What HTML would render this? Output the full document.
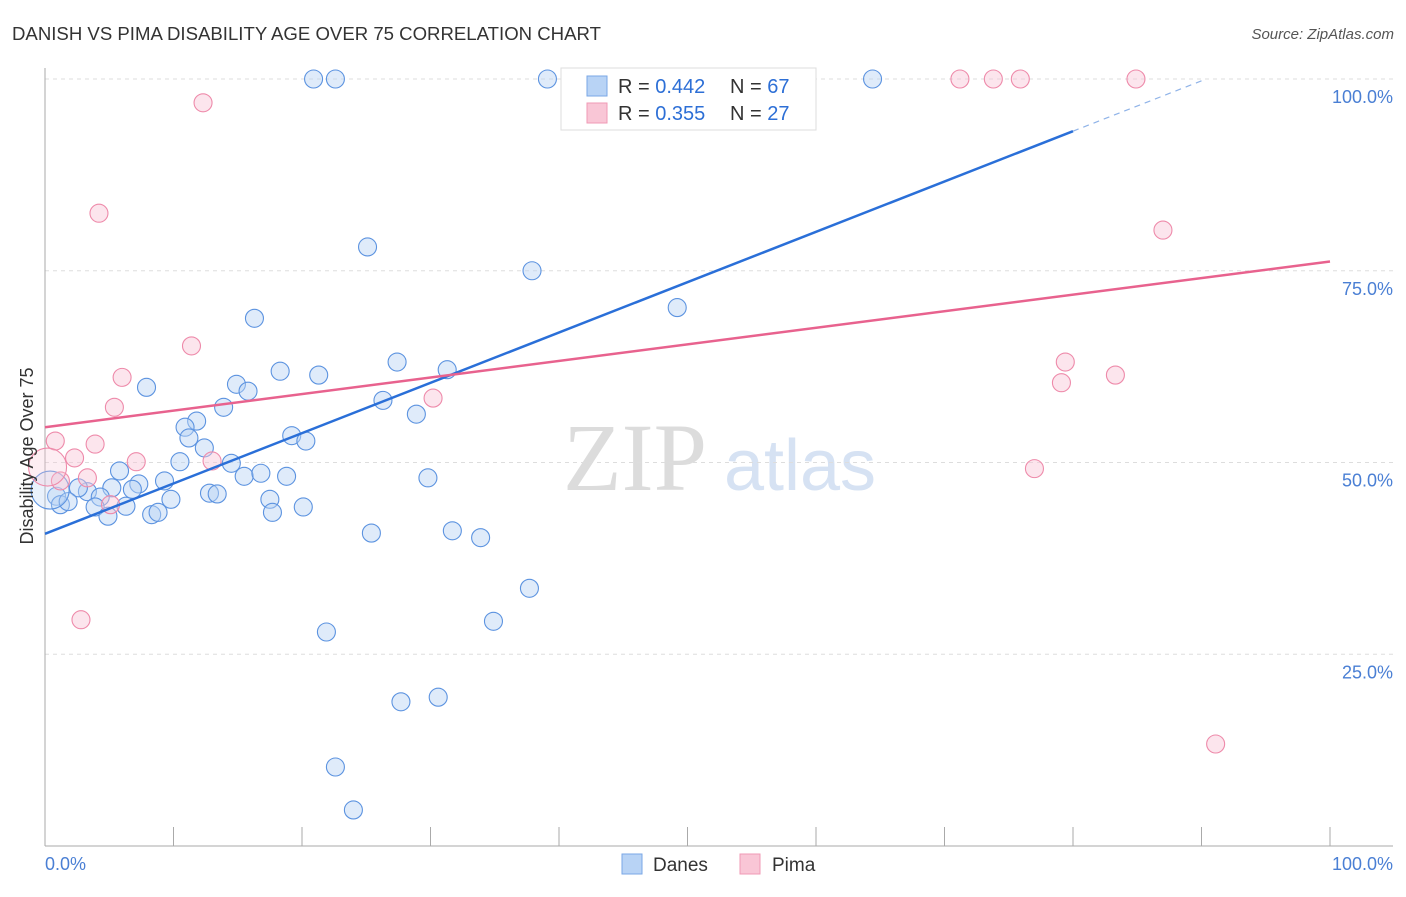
<!DOCTYPE html>
<html><head><meta charset="utf-8"><style>
body{margin:0;background:#fff;font-family:"Liberation Sans",sans-serif;}
</style></head><body>
<svg width="1406" height="892" xmlns="http://www.w3.org/2000/svg" id="svg" font-family="Liberation Sans, sans-serif">
<text x="12" y="40" font-size="18.6" fill="#333">DANISH VS PIMA DISABILITY AGE OVER 75 CORRELATION CHART</text>
<text x="1394" y="39" font-size="15" fill="#555" text-anchor="end" font-style="italic">Source: ZipAtlas.com</text>
<text x="635" y="490" font-size="96" fill="#dcdcdc" font-family="Liberation Serif, serif" text-anchor="middle">ZIP</text>
<text x="800" y="490" font-size="72" fill="#d6e2f3" text-anchor="middle">atlas</text>
<g id="grid"></g>
<g id="marks"></g>
<text transform="translate(33,456) rotate(-90)" font-size="18" fill="#333" text-anchor="middle">Disability Age Over 75</text>
<text x="45" y="870" font-size="18" fill="#4a7fd4">0.0%</text>
<text x="1393" y="870" font-size="18" fill="#4a7fd4" text-anchor="end">100.0%</text>
<g>
<rect x="561" y="68" width="255" height="62" fill="#fff" stroke="#ddd"/>
<rect x="587" y="76" width="20" height="20" fill="#b8d3f5" stroke="#7aa7e6"/>
<rect x="587" y="103" width="20" height="20" fill="#f9c6d6" stroke="#f09ab5"/>
<text x="618" y="93" font-size="20" fill="#333">R = <tspan fill="#2d6fd6">0.442</tspan></text>
<text x="730" y="93" font-size="20" fill="#333">N = <tspan fill="#2d6fd6">67</tspan></text>
<text x="618" y="120" font-size="20" fill="#333">R = <tspan fill="#2d6fd6">0.355</tspan></text>
<text x="730" y="120" font-size="20" fill="#333">N = <tspan fill="#2d6fd6">27</tspan></text>
</g>
<g>
<rect x="622" y="854" width="20" height="20" fill="#b8d3f5" stroke="#7aa7e6"/>
<text x="653" y="871" font-size="19" fill="#333">Danes</text>
<rect x="740" y="854" width="20" height="20" fill="#f9c6d6" stroke="#f09ab5"/>
<text x="772" y="871" font-size="19" fill="#333">Pima</text>
</g>
</svg>
<script>
const yTicks=[25,50,75,100];
const yTickLabels=["25.0%","50.0%","75.0%","100.0%"];
const xTicks=[0,10,20,30,40,50,60,70,80,90,100];
const danesX=[20.9,22.6,39.1,47.7,64.4,25.1,37.9,49.2,16.3,7.9,14.9,15.8,18.3,21.3,27.4,31.3,26.3,28.9,13.9,11.8,10.9,11.2,12.4,19.2,20.3,10.5,14.5,15.5,16.8,18.8,5.8,9.3,7.3,6.8,5.2,3.3,2.6,4.3,0.9,1.2,1.8,3.9,6.3,4.9,8.3,8.8,9.8,12.8,13.4,17.5,17.7,20.1,29.8,25.4,31.7,33.9,37.7,34.9,21.9,27.7,30.6,22.6,24.0,0.4];
const danesY=[100,100,100,100,100,78.1,75.0,70.2,68.8,59.8,60.2,59.3,61.9,61.4,63.1,62.1,58.1,56.3,57.2,55.4,54.6,53.2,51.9,53.5,52.8,50.1,49.9,48.2,48.6,48.2,48.9,47.6,47.2,46.5,46.7,46.2,46.7,45.5,45.6,44.5,44.9,44.2,44.3,43.0,43.2,43.5,45.2,46.0,45.9,45.2,43.5,44.2,48.0,40.8,41.1,40.2,33.6,29.3,27.9,18.8,19.4,10.3,4.7,46.4];
const pimaX=[12.3,4.2,71.2,73.8,75.9,84.9,87.0,11.4,6.0,5.4,30.2,0.8,3.9,2.3,7.1,13.0,3.3,1.2,5.1,2.8,79.4,79.1,83.3,77.0,91.1,0.2];
const pimaY=[96.9,82.5,100,100,100,100,80.3,65.2,61.1,57.2,58.4,52.8,52.4,50.6,50.1,50.2,48.0,47.6,44.5,29.5,63.1,60.4,61.4,49.2,13.3,49.4];
const danesTrend=[40.7,93.2]; // y at x=0 and x=80
const pimaTrend=[54.6,76.2]; // y at x=0 and x=100
const X=v=>45+v*12.85, Y=v=>846-v*7.67;
const NS="http://www.w3.org/2000/svg";
const grid=document.getElementById('grid'), marks=document.getElementById('marks'), svg=document.getElementById('svg');
function mk(tag,attrs,parent){const e=document.createElementNS(NS,tag);for(const k in attrs)e.setAttribute(k,attrs[k]);parent.appendChild(e);return e;}
yTicks.forEach((t,i)=>{
 const l=mk('line',{x1:45,x2:1393,y1:Y(t),y2:Y(t),stroke:'#ddd','stroke-dasharray':'4,4'},grid);
 
 
 const tx=mk('text',{x:1393,y:Y(t)+24,'font-size':18,fill:'#4a7fd4','text-anchor':'end'},grid);
 tx.textContent=yTickLabels[i];
 
 
});
const ya=mk('line',{x1:45,x2:45,y1:68,y2:846,stroke:'#aaa'},grid);


const xa=mk('line',{x1:45,x2:1393,y1:846,y2:846,stroke:'#aaa'},grid);


xTicks.forEach(t=>{const l=mk('line',{x1:X(t),x2:X(t),y1:827,y2:846,stroke:'#aaa'},grid);
 
 });
function pts(xs,ys,fill,stroke,name){xs.forEach((x,i)=>{const big=i===xs.length-1;
 const c=mk('circle',{cx:X(x),cy:Y(ys[i]),r:big?19:9,fill:fill,'fill-opacity':big?0.3:0.45,stroke:stroke,'stroke-width':1.1},marks);
 
 });}
pts(danesX,danesY,'#b8d3f5','#5c93e0','danes-point');
pts(pimaX,pimaY,'#f9c6d6','#ee8aaa','pima-point');
const bl=mk('line',{x1:X(0),y1:Y(danesTrend[0]),x2:X(80),y2:Y(danesTrend[1]),stroke:'#2a6fd8','stroke-width':2.5},marks);


const s=(danesTrend[1]-danesTrend[0])/80;
const bd=mk('line',{x1:X(80),y1:Y(danesTrend[1]),x2:X(90),y2:Y(danesTrend[0]+s*90),stroke:'#8fb3e8','stroke-width':1.2,'stroke-dasharray':'6,5'},marks);


const pl=mk('line',{x1:X(0),y1:Y(pimaTrend[0]),x2:X(100),y2:Y(pimaTrend[1]),stroke:'#e8628e','stroke-width':2.5},marks);


</script>
</body></html>
